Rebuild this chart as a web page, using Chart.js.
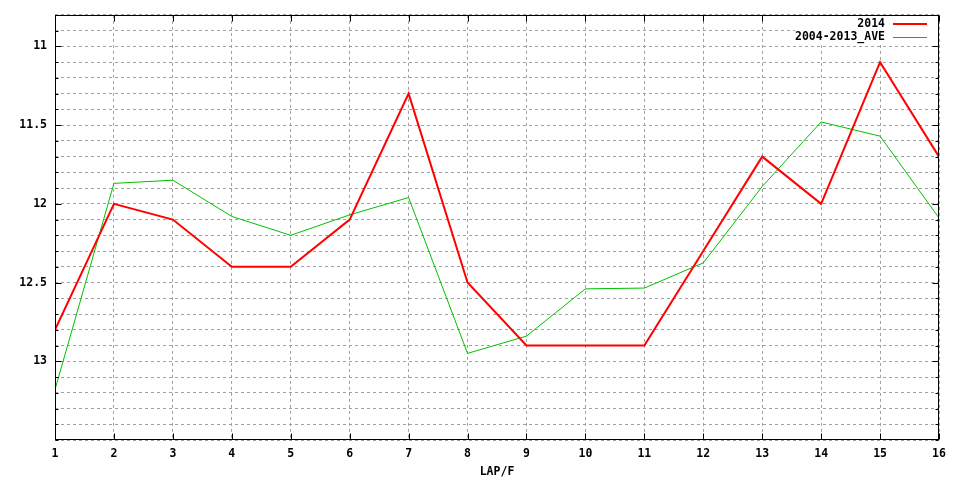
<!DOCTYPE html>
<html>
<head>
<meta charset="utf-8">
<script src="https://cdn.jsdelivr.net/npm/chart.js@4"></script>
<style>
  html, body { margin: 0; padding: 0; background: #fff; }
  #wrap { width: 960px; height: 480px; }
</style>
</head>
<body>
<div id="wrap"><canvas id="lapChart" width="960" height="480"></canvas></div>
<script>
// Lap numbers and lap times
const laps = [1, 2, 3, 4, 5, 6, 7, 8, 9, 10, 11, 12, 13, 14, 15, 16];
const times2014 = [12.8, 12.0, 12.1, 12.4, 12.4, 12.1, 11.3, 12.5, 12.9, 12.9, 12.9, 12.3, 11.7, 12.0, 11.1, 11.7];
const timesAve = [13.18, 11.87, 11.85, 12.08, 12.2, 12.07, 11.96, 12.95, 12.84, 12.54, 12.535, 12.375, 11.89, 11.48, 11.57, 12.09];
const seriesLabels = ['2014', '2004-2013_AVE'];
const yMajorTicks = [11, 11.5, 12, 12.5, 13];

const FONT = { family: '"DejaVu Sans Mono", monospace', size: 11.5, weight: 'bold' };

function isMajor(v) {
    return yMajorTicks.some(m => Math.abs(m - v) < 1e-6);
}

// frame, inward tick marks and the legend box (gnuplot style)
const framePlugin = {
    id: 'frame',
    afterDraw(chart) {
        const ctx = chart.ctx;
        const a = chart.chartArea;
        const x = chart.scales.x;
        const y = chart.scales.y;
        const L = Math.round(a.left) + 0.5, R = Math.round(a.right) - 0.5;
        const T = Math.round(a.top) + 0.5, B = Math.round(a.bottom) - 0.5;
        ctx.save();
        ctx.strokeStyle = '#000';
        ctx.lineWidth = 1;
        ctx.beginPath();
        y.ticks.forEach(t => {
            const py = Math.round(y.getPixelForValue(t.value)) + 0.5;
            const len = isMajor(t.value) ? 6 : 3;
            ctx.moveTo(L, py); ctx.lineTo(L + len, py);
            ctx.moveTo(R, py); ctx.lineTo(R - len, py);
        });
        x.ticks.forEach(t => {
            const px = Math.round(x.getPixelForValue(t.value)) + 0.5;
            ctx.moveTo(px, B); ctx.lineTo(px, B - 6);
            ctx.moveTo(px, T); ctx.lineTo(px, T + 6);
        });
        ctx.stroke();
        ctx.strokeRect(L, T, R - L, B - T);

        // legend
        ctx.fillStyle = '#fff';
        ctx.fillRect(795, T + 0.5, R - 795 - 0.5, 29);
        ctx.font = FONT.weight + ' ' + FONT.size + 'px ' + FONT.family;
        ctx.textAlign = 'right';
        ctx.textBaseline = 'middle';
        chart.data.datasets.forEach((ds, i) => {
            const ly = 24 + i * 13;
            ctx.fillStyle = '#000';
            ctx.fillText(ds.label, 885, ly);
            ctx.strokeStyle = ds.borderColor;
            ctx.lineWidth = ds.borderWidth;
            ctx.beginPath();
            ctx.moveTo(893, ly + (ds.borderWidth % 2 ? 0.5 : 0));
            ctx.lineTo(927, ly + (ds.borderWidth % 2 ? 0.5 : 0));
            ctx.stroke();
        });
        ctx.restore();
    }
};

new Chart(document.getElementById('lapChart'), {
    type: 'line',
    data: {
        datasets: [
            {
                label: seriesLabels[0],
                data: laps.map((l, i) => ({ x: l, y: times2014[i] })),
                borderColor: '#ff0000',
                borderWidth: 2,
                pointRadius: 0,
                tension: 0,
                fill: false
            },
            {
                label: seriesLabels[1],
                data: laps.map((l, i) => ({ x: l, y: timesAve[i] })),
                borderColor: '#00c000',
                borderWidth: 1,
                pointRadius: 0,
                tension: 0,
                fill: false
            }
        ]
    },
    options: {
        responsive: false,
        animation: false,
        layout: { padding: { top: 13, right: 21, left: 0, bottom: 0 } },
        plugins: {
            legend: { display: false },
            tooltip: { enabled: false }
        },
        scales: {
            x: {
                type: 'linear',
                min: 1,
                max: 16,
                afterFit: s => { s.height = 40; },
                ticks: {
                    stepSize: 1,
                    color: '#000',
                    font: FONT,
                    padding: 7,
                    maxRotation: 0
                },
                grid: { color: '#a0a0a0', drawTicks: false },
                border: { display: false, dash: [3, 3] },
                title: {
                    display: true,
                    text: 'LAP/F',
                    color: '#000',
                    font: FONT,
                    padding: { top: 0, bottom: 1 }
                }
            },
            y: {
                reverse: true,
                min: 10.8,
                max: 13.5,
                afterFit: s => { s.width = 55; },
                ticks: {
                    stepSize: 0.1,
                    autoSkip: false,
                    color: '#000',
                    font: FONT,
                    padding: 8,
                    callback: v => isMajor(v) ? String(Math.round(v * 10) / 10) : ''
                },
                grid: { color: '#a0a0a0', drawTicks: false },
                border: { display: false, dash: [3, 3] }
            }
        }
    },
    plugins: [framePlugin]
});
</script>
</body>
</html>
